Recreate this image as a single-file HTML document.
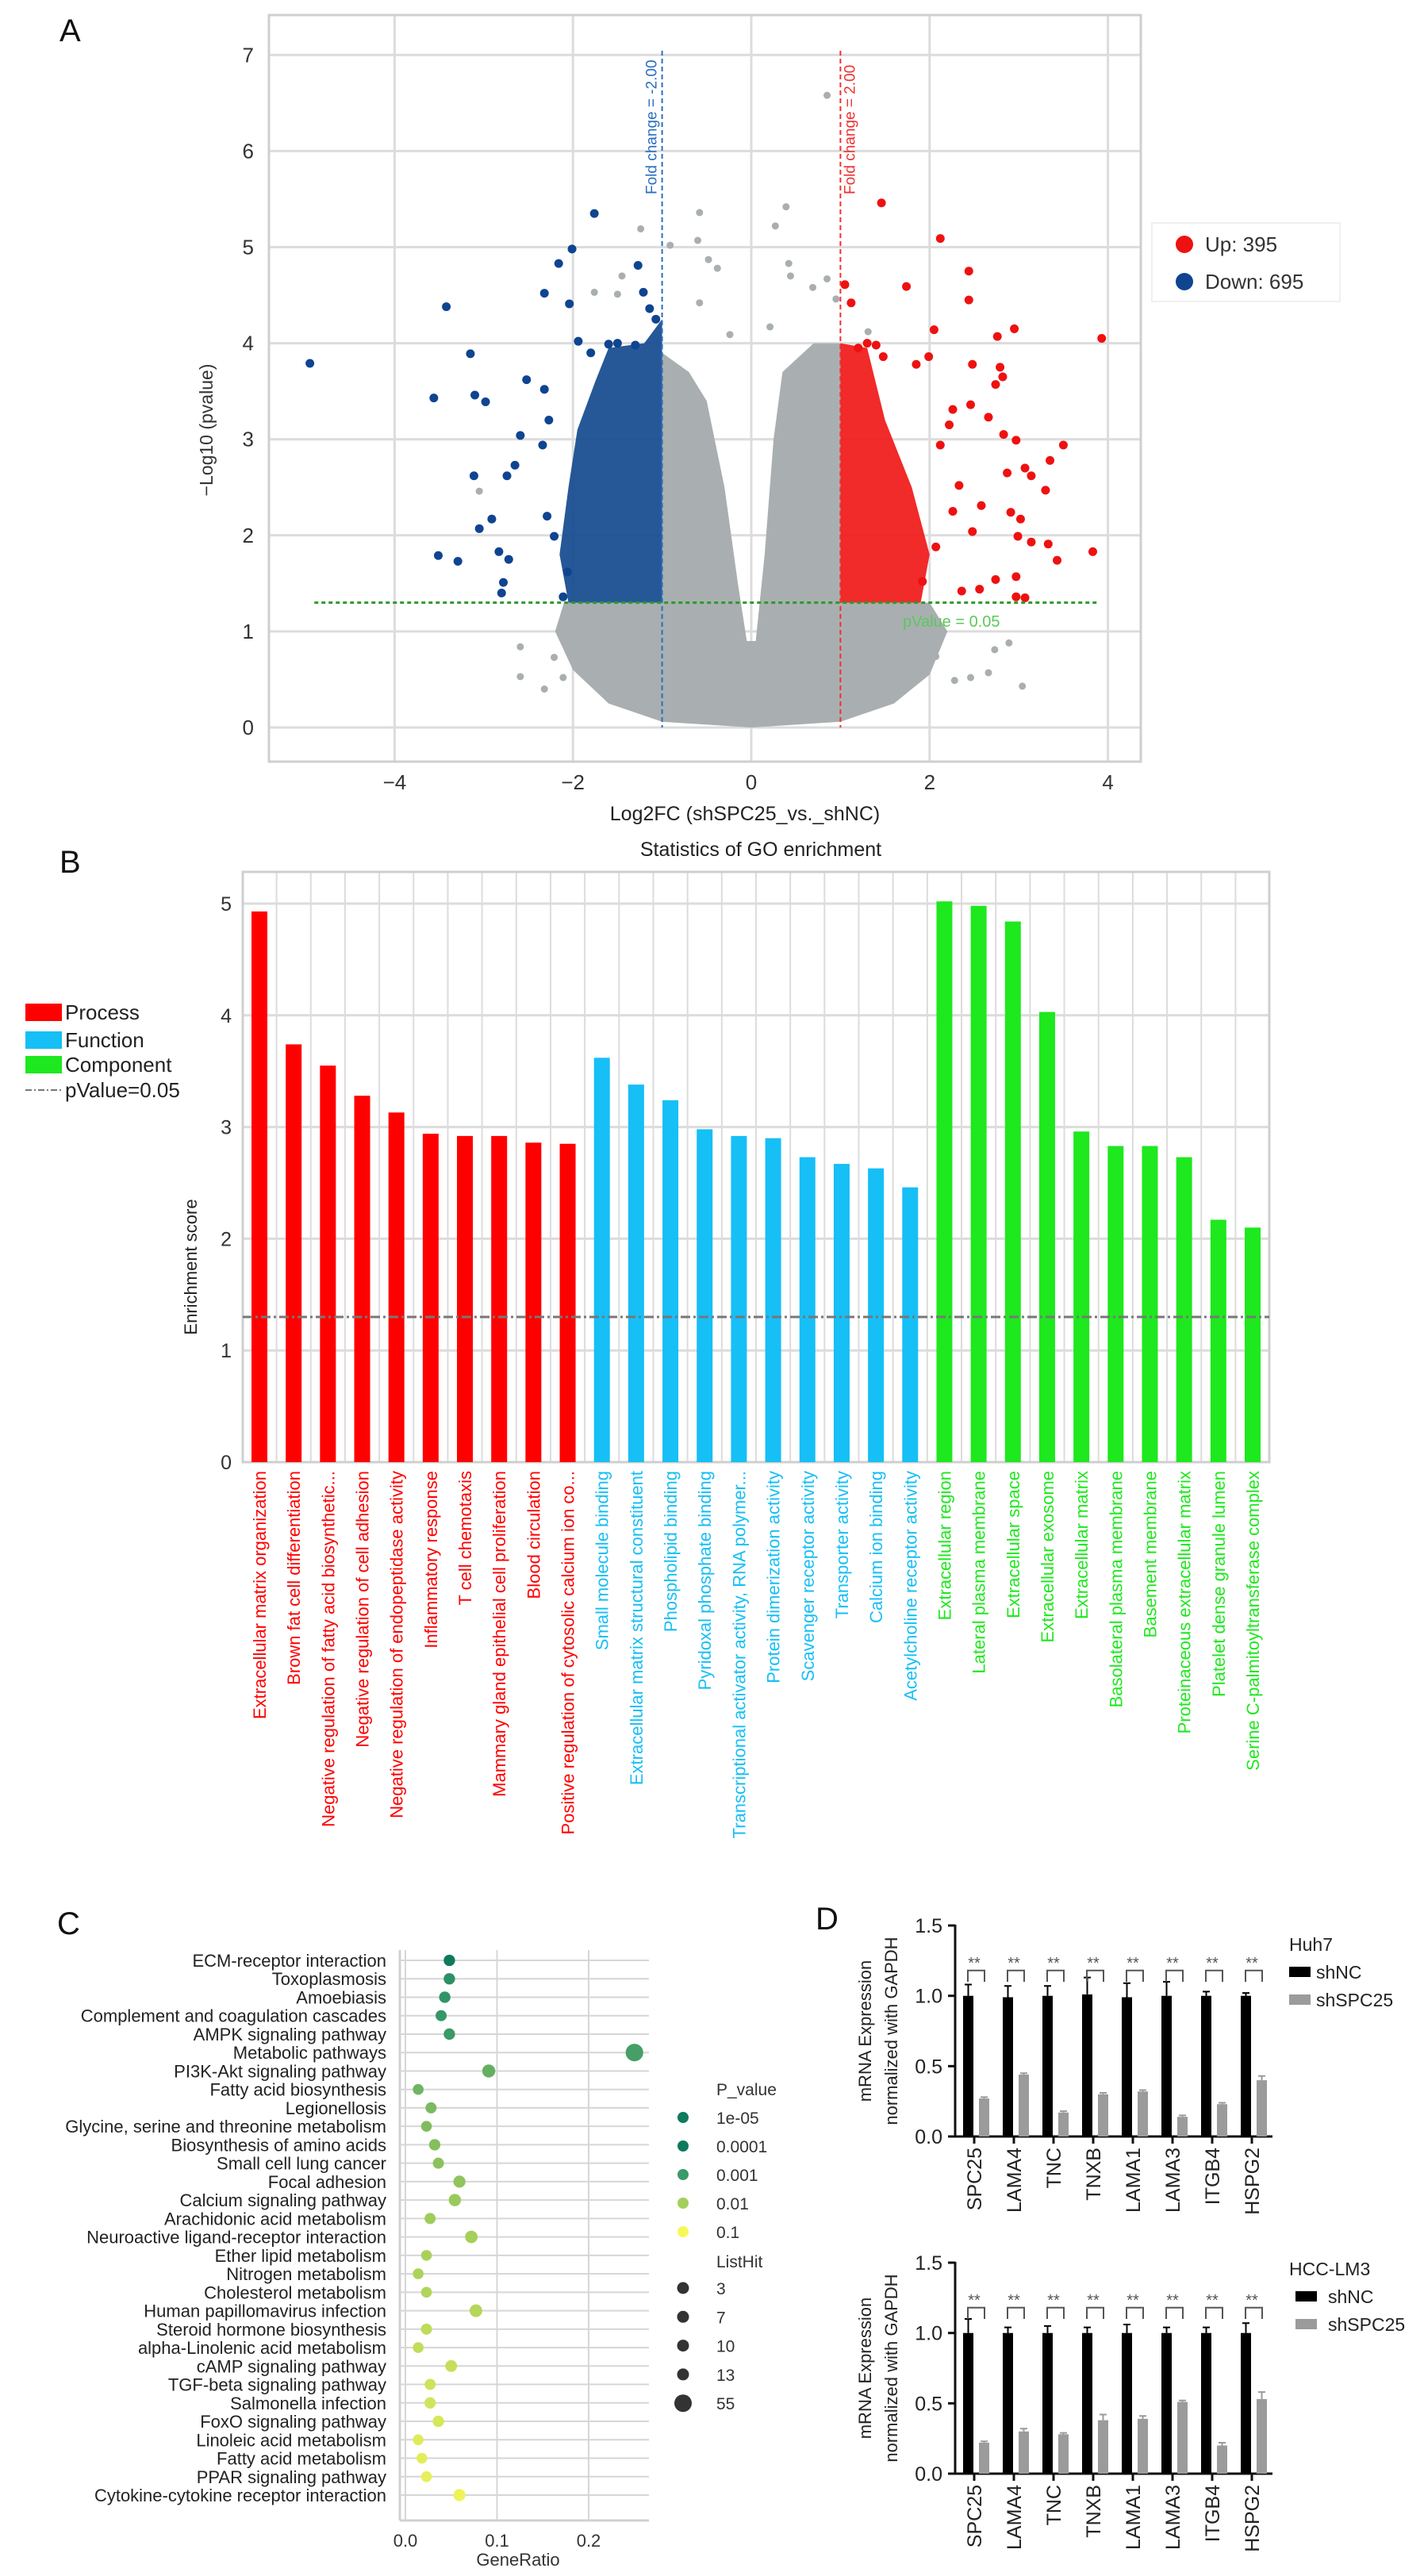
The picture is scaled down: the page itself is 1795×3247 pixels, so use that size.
<!DOCTYPE html>
<html><head><meta charset="utf-8">
<style>
html,body{margin:0;padding:0;background:#fff;}
svg{display:block;font-family:"Liberation Sans",sans-serif;}
.nar{font-family:"Liberation Sans Narrow","Liberation Sans",sans-serif;}
</style></head>
<body>
<svg id="fig" xmlns="http://www.w3.org/2000/svg" width="1795" height="3247" viewBox="0 0 1795 3247">
<rect x="0" y="0" width="1795" height="3247" fill="#fff"/>
<g id="pA"></g>
<g id="pB"></g>
<g id="pC"></g>
<g id="pD"></g>
</svg>
<script>
// ---------- Panel A data ----------
const volcXTicks = [-4,-2,0,2,4];
const volcYTicks = [0,1,2,3,4,5,6,7];
const grayCloud = [[-1,3.9],[-0.7,3.7],[-0.5,3.4],[-0.3,2.5],[-0.15,1.5],[-0.05,0.9],[0.05,0.9],[0.15,1.8],[0.25,3.0],[0.35,3.7],[0.7,4.0],[1,4.0],[1,1.3],[2.0,1.3],[2.2,1.0],[2.0,0.55],[1.6,0.25],[1.0,0.06],[0,0],[-1.0,0.06],[-1.6,0.25],[-2.0,0.6],[-2.2,1.0],[-2.1,1.3],[-1,1.3]];
const blueCloud = [[-1,1.3],[-2.05,1.3],[-2.15,1.8],[-2.05,2.5],[-1.95,3.1],[-1.75,3.6],[-1.6,3.95],[-1.2,4.0],[-1.0,4.25]];
const redCloud = [[1,1.3],[1.9,1.3],[2.0,1.8],[1.8,2.5],[1.5,3.2],[1.3,3.95],[1.0,4.0]];
const grayX = [0.85,0.39,-0.58,0.27,-0.60,-1.24,-0.91,-0.48,0.42,-0.38,0.44,0.85,-1.45,-1.76,-1.5,-0.58,0.95,0.69,0.21,-0.24,1.31,-3.05,-2.59,-2.59,-2.32,-2.11,-2.21,2.89,3.04,2.66,2.46,2.28,2.07,2.73];
const grayY = [6.58,5.42,5.36,5.22,5.07,5.19,5.02,4.87,4.83,4.78,4.7,4.67,4.7,4.53,4.51,4.42,4.46,4.58,4.17,4.09,4.12,2.46,0.84,0.53,0.4,0.52,0.73,0.88,0.43,0.57,0.52,0.49,0.74,0.81];
const downX = [-4.95,-3.42,-3.15,-3.56,-3.10,-2.98,-2.52,-2.59,-2.65,-3.11,-2.74,-2.91,-3.05,-3.51,-3.29,-2.83,-2.72,-2.78,-2.80,-1.76,-2.01,-2.16,-2.32,-2.04,-1.27,-1.21,-1.94,-1.14,-1.07,-2.32,-2.27,-2.34,-2.29,-2.21,-2.06,-2.11,-1.5,-1.3,-1.6,-1.8];
const downY = [3.79,4.38,3.89,3.43,3.46,3.39,3.62,3.04,2.73,2.62,2.62,2.17,2.07,1.79,1.73,1.83,1.75,1.51,1.40,5.35,4.98,4.83,4.52,4.41,4.81,4.53,4.02,4.36,4.25,3.52,3.2,2.94,2.2,1.99,1.62,1.36,4.0,3.98,3.99,3.9];
const upX = [1.46,2.12,1.74,2.44,2.44,1.05,1.12,2.05,2.76,2.95,3.93,2.79,2.48,2.82,2.74,1.99,1.85,1.48,2.46,2.26,2.66,3.5,3.35,2.97,2.83,3.07,3.14,3.30,2.87,2.91,3.02,2.99,3.14,3.33,3.83,3.43,2.97,2.74,3.07,2.97,2.36,2.56,2.26,2.33,2.58,2.12,2.22,2.48,2.07,1.92,1.3,1.2,1.4];
const upY = [5.46,5.09,4.59,4.75,4.45,4.61,4.42,4.14,4.07,4.15,4.05,3.75,3.78,3.65,3.57,3.86,3.78,3.86,3.36,3.31,3.23,2.94,2.78,2.99,3.05,2.70,2.62,2.47,2.65,2.24,2.17,1.99,1.93,1.91,1.83,1.74,1.57,1.54,1.35,1.36,1.42,1.44,2.25,2.52,2.31,2.94,3.15,2.04,1.88,1.52,4.0,3.95,3.98];
const upCount = 395, downCount = 695;

// ---------- Panel B data ----------
const goTerms = ["Extracellular matrix organization","Brown fat cell differentiation","Negative regulation of fatty acid biosynthetic...","Negative regulation of cell adhesion","Negative regulation of endopeptidase activity","Inflammatory response","T cell chemotaxis","Mammary gland epithelial cell proliferation","Blood circulation","Positive regulation of cytosolic calcium ion co...",
"Small molecule binding","Extracellular matrix structural constituent","Phospholipid binding","Pyridoxal phosphate binding","Transcriptional activator activity, RNA polymer...","Protein dimerization activity","Scavenger receptor activity","Transporter activity","Calcium ion binding","Acetylcholine receptor activity",
"Extracellular region","Lateral plasma membrane","Extracellular space","Extracellular exosome","Extracellular matrix","Basolateral plasma membrane","Basement membrane","Proteinaceous extracellular matrix","Platelet dense granule lumen","Serine C-palmitoyltransferase complex"];
const goScores = [4.93,3.74,3.55,3.28,3.13,2.94,2.92,2.92,2.86,2.85, 3.62,3.38,3.24,2.98,2.92,2.90,2.73,2.67,2.63,2.46, 5.02,4.98,4.84,4.03,2.96,2.83,2.83,2.73,2.17,2.10];
const goClass = ["P","P","P","P","P","P","P","P","P","P","F","F","F","F","F","F","F","F","F","F","C","C","C","C","C","C","C","C","C","C"];
const goYTicks = [0,1,2,3,4,5];
const goThreshold = 1.3;

// ---------- Panel C data ----------
const keggTerms = ["ECM-receptor interaction","Toxoplasmosis","Amoebiasis","Complement and coagulation cascades","AMPK signaling pathway","Metabolic pathways","PI3K-Akt signaling pathway","Fatty acid biosynthesis","Legionellosis","Glycine, serine and threonine metabolism","Biosynthesis of amino acids","Small cell lung cancer","Focal adhesion","Calcium signaling pathway","Arachidonic acid metabolism","Neuroactive ligand-receptor interaction","Ether lipid metabolism","Nitrogen metabolism","Cholesterol metabolism","Human papillomavirus infection","Steroid hormone biosynthesis","alpha-Linolenic acid metabolism","cAMP signaling pathway","TGF-beta signaling pathway","Salmonella infection","FoxO signaling pathway","Linoleic acid metabolism","Fatty acid metabolism","PPAR signaling pathway","Cytokine-cytokine receptor interaction"];
const keggRatio = [0.048,0.048,0.043,0.039,0.048,0.25,0.091,0.014,0.028,0.023,0.032,0.036,0.059,0.054,0.027,0.072,0.023,0.014,0.023,0.077,0.023,0.014,0.050,0.027,0.027,0.036,0.014,0.018,0.023,0.059];
const keggNegLogP = [4.5,3.3,3.2,3.1,3.0,2.9,2.6,2.5,2.4,2.35,2.3,2.25,2.2,2.1,2.05,2.0,1.95,1.9,1.85,1.8,1.7,1.65,1.6,1.5,1.45,1.4,1.3,1.25,1.2,1.1];
const keggHits = [5,5,5,4,5,55,13,3,4,3,5,4,8,9,4,10,3,3,3,11,4,3,7,4,5,5,3,3,3,8];
const keggXTicks = [0.0,0.1,0.2];
const pLegendLabels = ["1e-05","0.0001","0.001","0.01","0.1"];
const pLegendNegLog = [5,4,3,2,1];
const hitLegendLabels = ["3","7","10","13","55"];
const hitLegend = [3,7,10,13,55];

// ---------- Panel D data ----------
const genes = ["SPC25","LAMA4","TNC","TNXB","LAMA1","LAMA3","ITGB4","HSPG2"];
const huhNC = [1.0,0.99,1.0,1.01,0.99,1.0,1.0,1.0];
const huhNCerr = [0.08,0.08,0.07,0.12,0.10,0.10,0.03,0.02];
const huhKD = [0.27,0.44,0.17,0.30,0.32,0.14,0.23,0.40];
const huhKDerr = [0.01,0.01,0.01,0.01,0.01,0.01,0.01,0.03];
const lm3NC = [1.0,1.0,1.0,1.0,1.0,1.0,1.0,1.0];
const lm3NCerr = [0.10,0.04,0.05,0.04,0.06,0.04,0.04,0.07];
const lm3KD = [0.22,0.30,0.28,0.38,0.39,0.51,0.20,0.53];
const lm3KDerr = [0.01,0.02,0.01,0.04,0.02,0.01,0.02,0.05];
const dYTicks = [0.0,0.5,1.0,1.5];
const dYTickLabels = ["0.0","0.5","1.0","1.5"];

const NS="http://www.w3.org/2000/svg";
function el(parent, tag, attrs, text){
  const e=document.createElementNS(NS,tag);
  for(const k in attrs) e.setAttribute(k,attrs[k]);
  if(text!==undefined) e.textContent=text;
  parent.appendChild(e); return e;
}

// ================= Panel A =================
(function(){
  const g=document.getElementById('pA');
  const X=v=>947+v*112.4, Y=v=>917-v*121.1;
  const L=339,R=1438,T=19,B=960;
  let t=el(g,'text',{x:75,y:52,'font-size':40,fill:'#111'},'A');
   
  // gridlines
  volcYTicks.forEach(v=>{
    const l=el(g,'line',{x1:L,x2:R,y1:Y(v),y2:Y(v),stroke:'#dcdcdc','stroke-width':3});
     
    const tx=el(g,'text',{x:320,y:Y(v)+9,'font-size':26,'text-anchor':'end',fill:'#333',class:'nar'},String(v));
     
  });
  volcXTicks.forEach(v=>{
    const l=el(g,'line',{y1:T,y2:B,x1:X(v),x2:X(v),stroke:'#dcdcdc','stroke-width':3});
     
    const tx=el(g,'text',{x:X(v),y:995,'font-size':26,'text-anchor':'middle',fill:'#333',class:'nar'},(v<0?'\u2212':'')+Math.abs(v));
     
  });
  const box=el(g,'rect',{x:L,y:T,width:R-L,height:B-T,fill:'none',stroke:'#cfcfcf','stroke-width':3});
   
  function poly(pts,fill,name,op){
    const p=el(g,'polygon',{points:pts.map(q=>X(q[0])+','+Y(q[1])).join(' '),fill:fill,opacity:op});
     
  }
  poly(grayCloud,'#a9afb0','nonsignificant-cloud',1);
  poly(blueCloud,'#134a8e','down-cloud',0.92);
  poly(redCloud,'#f01818','up-cloud',0.92);
  grayX.forEach((x,i)=>{const c=el(g,'circle',{cx:X(x),cy:Y(grayY[i]),r:4.5,fill:'#a9afb0'});
     });
  downX.forEach((x,i)=>{const c=el(g,'circle',{cx:X(x),cy:Y(downY[i]),r:5.5,fill:'#0f4490'});
     });
  upX.forEach((x,i)=>{const c=el(g,'circle',{cx:X(x),cy:Y(upY[i]),r:5.5,fill:'#ee1111'});
     });
  // threshold lines
  let l1=el(g,'line',{x1:X(-1),x2:X(-1),y1:64,y2:Y(0),stroke:'#2a6fc0','stroke-width':2,'stroke-dasharray':'6,4'});
   
  let l2=el(g,'line',{x1:X(1),x2:X(1),y1:64,y2:Y(0),stroke:'#f03030','stroke-width':2,'stroke-dasharray':'6,4'});
   
  let l3=el(g,'line',{x1:X(-4.9),x2:X(3.9),y1:Y(1.3),y2:Y(1.3),stroke:'#2a9a2a','stroke-width':3,'stroke-dasharray':'5,4'});
   
  t=el(g,'text',{x:0,y:0,'font-size':19,fill:'#2a6fc0',transform:`translate(${X(-1)-7},245) rotate(-90)`},'Fold change = -2.00');
   
  t=el(g,'text',{x:0,y:0,'font-size':19,fill:'#f03030',transform:`translate(${X(1)+18},245) rotate(-90)`},'Fold change = 2.00');
   
  t=el(g,'text',{x:1138,y:790,'font-size':20,fill:'#5cc85c',class:'nar'},'pValue = 0.05');
   
  t=el(g,'text',{x:0,y:0,'font-size':23,fill:'#333','text-anchor':'middle',transform:'translate(268,542) rotate(-90)'},'\u2212Log10 (pvalue)');
   
  t=el(g,'text',{x:939,y:1034,'font-size':25,fill:'#222','text-anchor':'middle',class:'nar'},'Log2FC (shSPC25_vs._shNC)');
   
  // legend
  const lg=el(g,'rect',{x:1452,y:281,width:237,height:99,fill:'#fff',stroke:'#f0f0f0','stroke-width':2});
   
  let c=el(g,'circle',{cx:1493,cy:308,r:11,fill:'#ee1111'});  
  c=el(g,'circle',{cx:1493,cy:355,r:11,fill:'#0f4490'});  
  t=el(g,'text',{x:1519,y:317,'font-size':26,fill:'#333',class:'nar'},'Up: '+upCount);  
  t=el(g,'text',{x:1519,y:364,'font-size':26,fill:'#333',class:'nar'},'Down: '+downCount);  
})();

// ================= Panel B =================
(function(){
  const g=document.getElementById('pB');
  const L=306,R=1600,T=1099,B0=1843;
  const step=(1579-327)/(goScores.length-1);
  const X=i=>327+i*step, Y=v=>B0-v*140.8;
  const col={P:'#ff0000',F:'#16bff5',C:'#1ee81e'};
  let t=el(g,'text',{x:75,y:1100,'font-size':40,fill:'#111'},'B');
   
  t=el(g,'text',{x:959,y:1079,'font-size':25,fill:'#222','text-anchor':'middle',class:'nar'},'Statistics of GO enrichment');
   
  goYTicks.forEach(v=>{
    if(v>0){const l=el(g,'line',{x1:L,x2:R,y1:Y(v),y2:Y(v),stroke:'#dcdcdc','stroke-width':3});
     }
    const tx=el(g,'text',{x:292,y:Y(v)+9,'font-size':25,'text-anchor':'end',fill:'#333',class:'nar'},String(v));
     
  });
  for(let i=0;i<=goScores.length;i++){
    const x=327+(i-0.5)*step;
    if(x>L&&x<R){const l=el(g,'line',{x1:x,x2:x,y1:T,y2:B0,stroke:'#dcdcdc','stroke-width':2});
     }
  }
  const box=el(g,'rect',{x:L,y:T,width:R-L,height:B0-T,fill:'none',stroke:'#cfcfcf','stroke-width':3});
   
  goScores.forEach((v,i)=>{
    const r=el(g,'rect',{x:X(i)-10,y:Y(v),width:20,height:B0-Y(v),fill:col[goClass[i]]});
     
    const tx=el(g,'text',{x:0,y:0,'font-size':22,fill:col[goClass[i]],'text-anchor':'end',transform:`translate(${X(i)+8},1854) rotate(-90)`},goTerms[i]);
     
  });
  const th=el(g,'line',{x1:L,x2:R,y1:Y(goThreshold),y2:Y(goThreshold),stroke:'#777','stroke-width':3,'stroke-dasharray':'12,4,3,4'});
   
  t=el(g,'text',{x:0,y:0,'font-size':22,fill:'#222','text-anchor':'middle',transform:'translate(248,1597) rotate(-90)'},'Enrichment score');
   
  const items=[['Process','#ff0000',1276],['Function','#16bff5',1311],['Component','#1ee81e',1342]];
  items.forEach(it=>{
    const r=el(g,'rect',{x:32,y:it[2]-11,width:46,height:22,fill:it[1]});
     
    const tx=el(g,'text',{x:82,y:it[2]+9,'font-size':26,fill:'#222',class:'nar'},it[0]);
     
  });
  const ll=el(g,'line',{x1:32,x2:78,y1:1374,y2:1374,stroke:'#777','stroke-width':2,'stroke-dasharray':'8,3,2,3'});
   
  t=el(g,'text',{x:82,y:1383,'font-size':26,fill:'#222',class:'nar'},'pValue=0.05');
   
})();

// ================= Panel C =================
(function(){
  const g=document.getElementById('pC');
  const L=504,R=818,T=2458,B=3177;
  const X=v=>511+v*1155, Y=i=>2471+i*(3145-2471)/(keggTerms.length-1);
  const stops=[[5,[14,122,94]],[4,[13,122,92]],[3,[58,154,104]],[2,[165,207,90]],[1,[247,247,90]]];
  function color(p){
    if(p>=5) return 'rgb(14,122,94)'; if(p<=1) return 'rgb(247,247,90)';
    for(let k=0;k<4;k++){const a=stops[k],b=stops[k+1];
      if(p<=a[0]&&p>=b[0]){const f=(a[0]-p)/(a[0]-b[0]);
        return 'rgb('+a[1].map((c,j)=>Math.round(c+(b[1][j]-c)*f)).join(',')+')';}}
  }
  const rad=h=>5.5+0.75*Math.sqrt(h);
  let t=el(g,'text',{x:72,y:2438,'font-size':40,fill:'#111'},'C');
   
  const ax=el(g,'line',{x1:L,x2:L,y1:T,y2:B,stroke:'#d0d0d0','stroke-width':3});
   
  const ax2=el(g,'line',{x1:L,x2:R,y1:B,y2:B,stroke:'#d0d0d0','stroke-width':3});
   
  keggXTicks.forEach(v=>{
    const l=el(g,'line',{x1:X(v),x2:X(v),y1:T,y2:B,stroke:'#d6d6d6','stroke-width':2});
     
    const tx=el(g,'text',{x:X(v),y:3210,'font-size':22,fill:'#333','text-anchor':'middle'},v.toFixed(1));
     
  });
  keggTerms.forEach((n,i)=>{
    const l=el(g,'line',{x1:L,x2:R,y1:Y(i),y2:Y(i),stroke:'#d6d6d6','stroke-width':2});
     
    const tx=el(g,'text',{x:487,y:Y(i)+8,'font-size':22,fill:'#222','text-anchor':'end'},n);
     
  });
  keggRatio.forEach((v,i)=>{
    const c=el(g,'circle',{cx:X(v),cy:Y(i),r:rad(keggHits[i]),fill:color(keggNegLogP[i])});
     
  });
  t=el(g,'text',{x:653,y:3234,'font-size':22,fill:'#333','text-anchor':'middle'},'GeneRatio');
   
  t=el(g,'text',{x:903,y:2641,'font-size':21,fill:'#333'},'P_value');
   
  pLegendLabels.forEach((s,i)=>{
    const y=2669+i*36;
    const c=el(g,'circle',{cx:861,cy:y,r:7,fill:color(pLegendNegLog[i])});
     
    const tx=el(g,'text',{x:903,y:y+8,'font-size':21,fill:'#333'},s);
     
  });
  t=el(g,'text',{x:903,y:2858,'font-size':21,fill:'#333'},'ListHit');
   
  hitLegend.forEach((h,i)=>{
    const y=2884+i*36.3;
    const c=el(g,'circle',{cx:861,cy:y,r:i<4?7.5:11,fill:'#333'});
     
    const tx=el(g,'text',{x:903,y:y+8,'font-size':21,fill:'#333'},hitLegendLabels[i]);
     
  });
})();

// ================= Panel D =================
function barChart(g, top0, nc, ncErr, kd, kdErr, cell, legY, legRectX, legTextX){
  const Y=v=>top0-v*177.3; // 0.0 at top0
  const axX=1204, G=i=>1228+i*50;
  const ax=el(g,'line',{x1:axX,x2:axX,y1:Y(1.5)-1,y2:top0+1,stroke:'#111','stroke-width':3});
   
  const bx=el(g,'line',{x1:axX,x2:1604,y1:top0,y2:top0,stroke:'#111','stroke-width':3});
   
  dYTicks.forEach((v,i)=>{
    const l=el(g,'line',{x1:axX-9,x2:axX,y1:Y(v),y2:Y(v),stroke:'#111','stroke-width':3});
     
    const tx=el(g,'text',{x:1188,y:Y(v)+9,'font-size':25,fill:'#222','text-anchor':'end'},dYTickLabels[i]);
     
  });
  genes.forEach((n,i)=>{
    const gx=G(i), bxN=gx-13, bxK=gx+6;
    let r=el(g,'rect',{x:bxN-1,y:Y(nc[i]),width:13,height:top0-Y(nc[i]),fill:'#000'});
     
    let e=el(g,'path',{d:`M${bxN+5.5},${Y(nc[i])} V${Y(nc[i]+ncErr[i])} M${bxN+1},${Y(nc[i]+ncErr[i])} H${bxN+10}`,stroke:'#000','stroke-width':2,fill:'none'});
     
    r=el(g,'rect',{x:bxK,y:Y(kd[i]),width:13,height:top0-Y(kd[i]),fill:'#9b9b9b'});
     
    e=el(g,'path',{d:`M${bxK+6.5},${Y(kd[i])} V${Y(kd[i]+kdErr[i])} M${bxK+2},${Y(kd[i]+kdErr[i])} H${bxK+11}`,stroke:'#9b9b9b','stroke-width':2,fill:'none'});
     
    const tk=el(g,'line',{x1:gx,x2:gx,y1:top0,y2:top0+9,stroke:'#111','stroke-width':3});
     
    const tx=el(g,'text',{x:0,y:0,'font-size':25,fill:'#222','text-anchor':'end',transform:`translate(${gx+9},${top0+14}) rotate(-90)`},n);
     
    const br=el(g,'path',{d:`M${bxN+5},${Y(1.1)} V${Y(1.18)} H${bxK+7} V${Y(1.1)}`,stroke:'#555','stroke-width':2,fill:'none'});
     
    const st=el(g,'text',{x:gx,y:Y(1.24)+8,'font-size':20,fill:'#555','text-anchor':'middle'},'**');
     
  });
  const yt=el(g,'text',{x:0,y:0,'font-size':22,fill:'#222','text-anchor':'middle',transform:`translate(1098,${Y(0.75)}) rotate(-90)`},'mRNA Expression');
   
  const yt2=el(g,'text',{x:0,y:0,'font-size':22,fill:'#222','text-anchor':'middle',transform:`translate(1131,${Y(0.75)}) rotate(-90)`},'normalized with GAPDH');
   
  let t=el(g,'text',{x:1625,y:legY+8,'font-size':23,fill:'#222'},cell);
   
  let r=el(g,'rect',{x:legRectX,y:legY+28,width:27,height:13,fill:'#000'});
   
  t=el(g,'text',{x:legTextX,y:legY+43,'font-size':23,fill:'#222'},'shNC');
   
  r=el(g,'rect',{x:legRectX,y:legY+63,width:27,height:13,fill:'#9b9b9b'});
   
  t=el(g,'text',{x:legTextX,y:legY+78,'font-size':23,fill:'#222'},'shSPC25');
   
}
(function(){
  const g=document.getElementById('pD');
  let t=el(g,'text',{x:1028,y:2432,'font-size':40,fill:'#111'},'D');
   
  const g1=el(g,'g',{});  
  const g2=el(g,'g',{});  
  barChart(g1,2693,huhNC,huhNCerr,huhKD,huhKDerr,'Huh7',2451,1625,1659);
  barChart(g2,3118,lm3NC,lm3NCerr,lm3KD,lm3KDerr,'HCC-LM3',2860,1633,1674);
})();
</script>
</body></html>
